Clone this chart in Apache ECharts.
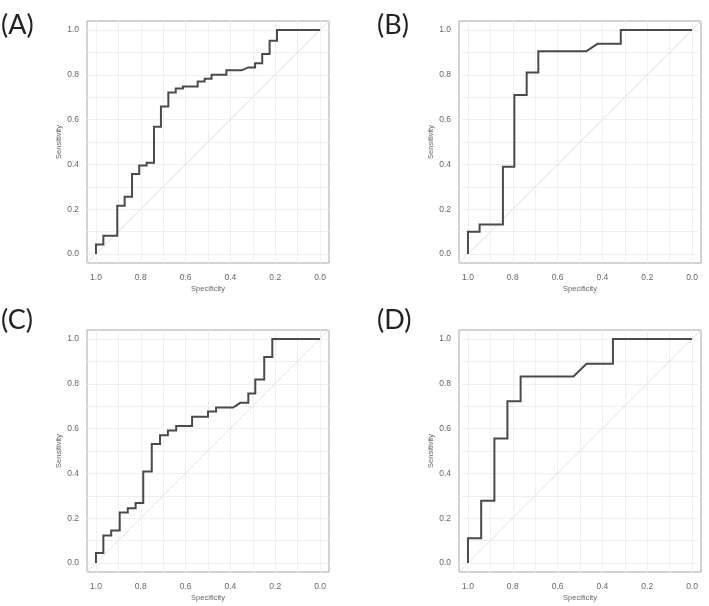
<!DOCTYPE html>
<html><head><meta charset="utf-8">
<script src="https://cdn.jsdelivr.net/npm/echarts@6/dist/echarts.min.js"></script>
<style>html,body{margin:0;padding:0;background:#fff}#c{width:709px;height:606px}</style>
</head><body><div id="c"></div>
<script>
// ---- data ----
const panelLabels = ['(A)', '(B)', '(C)', '(D)'];
const xAxisName = 'Specificity';
const yAxisName = 'Sensitivity';
const tickLabels = [0, 0.2, 0.4, 0.6, 0.8, 1.0];
const gridValues = [0, 0.1, 0.2, 0.3, 0.4, 0.5, 0.6, 0.7, 0.8, 0.9, 1.0];
const diagSpec = [1.04, -0.04];
const diagSens = [-0.04, 1.04];

const specA = [1,1,0.967,0.967,0.905,0.905,0.872,0.872,0.839,0.839,0.807,0.807,0.774,0.774,0.741,0.741,0.710,0.710,0.677,0.677,0.644,0.644,0.612,0.612,0.546,0.546,0.515,0.515,0.484,0.484,0.418,0.418,0.350,0.320,0.290,0.290,0.258,0.258,0.225,0.225,0.192,0.192,0];
const sensA = [0,0.043,0.043,0.082,0.082,0.215,0.215,0.256,0.256,0.357,0.357,0.395,0.395,0.407,0.407,0.568,0.568,0.658,0.658,0.721,0.721,0.739,0.739,0.748,0.748,0.770,0.770,0.782,0.782,0.800,0.800,0.820,0.820,0.833,0.833,0.852,0.852,0.893,0.893,0.952,0.952,1,1];

const specB = [1,1,0.948,0.948,0.844,0.844,0.793,0.793,0.738,0.738,0.686,0.686,0.472,0.422,0.318,0.318,0];
const sensB = [0,0.099,0.099,0.132,0.132,0.389,0.389,0.710,0.710,0.810,0.810,0.905,0.905,0.938,0.938,1,1];

const specC = [1,1,0.967,0.967,0.932,0.932,0.894,0.894,0.858,0.858,0.823,0.823,0.789,0.789,0.751,0.751,0.714,0.714,0.679,0.679,0.642,0.642,0.571,0.571,0.500,0.500,0.464,0.464,0.388,0.356,0.320,0.320,0.289,0.289,0.249,0.249,0.213,0.213,0];
const sensC = [0,0.045,0.045,0.123,0.123,0.145,0.145,0.225,0.225,0.245,0.245,0.268,0.268,0.409,0.409,0.531,0.531,0.570,0.570,0.592,0.592,0.612,0.612,0.653,0.653,0.676,0.676,0.694,0.694,0.715,0.715,0.757,0.757,0.819,0.819,0.920,0.920,1,1];

const specD = [1,1,0.941,0.941,0.882,0.882,0.824,0.824,0.765,0.765,0.529,0.471,0.353,0.353,0];
const sensD = [0,0.111,0.111,0.278,0.278,0.556,0.556,0.722,0.722,0.833,0.833,0.889,0.889,1,1];

const curves = [[specA, sensA], [specB, sensB], [specC, sensC], [specD, sensD]];

// ---- layout ----
const layout = [
  { left: 87, top: 21, labelLeft: 1, labelTop: 12 },
  { left: 459, top: 21, labelLeft: 377, labelTop: 12 },
  { left: 87, top: 330, labelLeft: 1, labelTop: 307 },
  { left: 459, top: 330, labelLeft: 377, labelTop: 307 }
];
const SIZE = 242;
const tickFont = 'Liberation Sans';

const zip = (a, b) => a.map((v, i) => [v, b[i]]);

const option = {
  animation: false,
  backgroundColor: '#fff',
  title: layout.map((l, i) => ({
    text: panelLabels[i], left: l.labelLeft, top: l.labelTop, padding: 0,
    textStyle: { fontFamily: 'Lato', fontSize: 27, fontWeight: 'normal', color: '#222' }
  })),
  grid: layout.map(l => ({
    left: l.left, top: l.top, width: SIZE, height: SIZE,
    show: true, borderColor: '#a6a6a6', borderWidth: 1, backgroundColor: 'transparent'
  })),
  xAxis: layout.map((l, i) => ({
    gridIndex: i, type: 'value', inverse: true, min: -0.04, max: 1.04,
    name: xAxisName, nameLocation: 'middle', nameGap: 22,
    nameTextStyle: { fontFamily: tickFont, fontSize: 7.5, color: '#666' },
    axisLine: { show: false },
    axisTick: { show: true, length: 3, customValues: tickLabels, lineStyle: { color: '#999' } },
    axisLabel: { customValues: tickLabels, fontFamily: tickFont, fontSize: 8.5, color: '#666', margin: 10,
      formatter: v => v.toFixed(1) },
    splitLine: { show: false }
  })),
  yAxis: layout.map((l, i) => ({
    gridIndex: i, type: 'value', min: -0.04, max: 1.04,
    name: yAxisName, nameLocation: 'middle', nameGap: 19,
    nameTextStyle: { fontFamily: tickFont, fontSize: 7.5, color: '#666' },
    axisLine: { show: false },
    axisTick: { show: true, length: 3, customValues: tickLabels, lineStyle: { color: '#999' } },
    axisLabel: { customValues: tickLabels, fontFamily: tickFont, fontSize: 8.5, color: '#666', margin: 8,
      formatter: v => v.toFixed(1) },
    splitLine: { show: false }
  })),
  series: []
};

curves.forEach((c, i) => {
  option.series.push({
    type: 'line', xAxisIndex: i, yAxisIndex: i, z: 2,
    data: zip(diagSpec, diagSens), symbol: 'none', silent: true,
    lineStyle: { color: '#e0e0e0', width: 1 },
    markLine: {
      silent: true, symbol: 'none', z: 1, animation: false,
      label: { show: false },
      lineStyle: { color: '#efefef', width: 1, type: 'solid' },
      data: gridValues.map(v => ({ xAxis: v })).concat(gridValues.map(v => ({ yAxis: v })))
    }
  });
  option.series.push({
    type: 'line', xAxisIndex: i, yAxisIndex: i, z: 3,
    data: zip(c[0], c[1]), symbol: 'none', silent: true,
    lineStyle: { color: '#4a4a4a', width: 2, join: 'miter' }
  });
});

const chart = echarts.init(document.getElementById('c'), null, { renderer: 'canvas' });
chart.setOption(option);
</script>
</body></html>
